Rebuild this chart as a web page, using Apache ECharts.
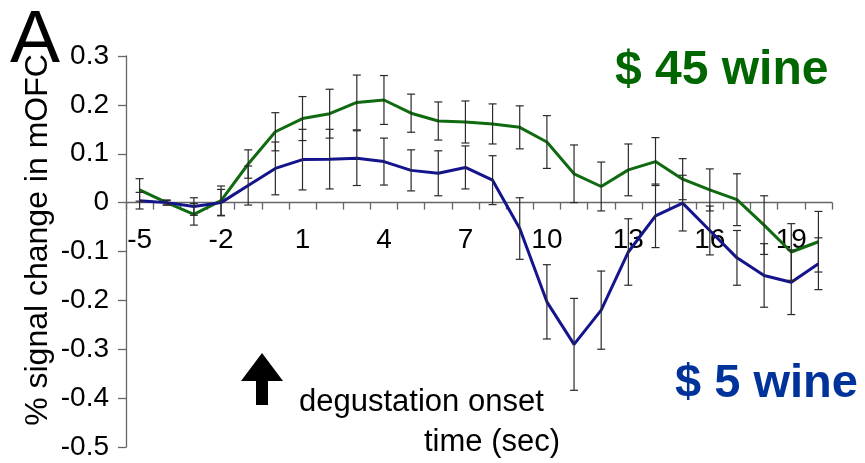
<!DOCTYPE html>
<html>
<head>
<meta charset="utf-8">
<script src="https://cdn.jsdelivr.net/npm/echarts@6/dist/echarts.min.js"></script>
<style>html,body{margin:0;padding:0;background:#fff}#c{width:865px;height:463px}</style>
</head>
<body>
<div id="c"></div>
<script>
var categories = ['-5','-4','-3','-2','-1','0','1','2','3','4','5','6','7','8','9','10','11','12','13','14','15','16','17','18','19','20'];
var wine45 = [0.026, 0.000, -0.024, 0.004, 0.079, 0.145, 0.172, 0.182, 0.205, 0.210, 0.183, 0.167, 0.165, 0.161, 0.154, 0.124, 0.059, 0.033, 0.067, 0.084, 0.048, 0.026, 0.006, -0.046, -0.101, -0.080];
var wine45Err = [0.023, 0.005, 0.022, 0.030, 0.029, 0.039, 0.045, 0.050, 0.056, 0.050, 0.039, 0.039, 0.043, 0.041, 0.044, 0.054, 0.059, 0.050, 0.053, 0.049, 0.042, 0.043, 0.053, 0.060, 0.058, 0.062];
var wine5 = [0.004, 0.000, -0.008, 0.000, 0.035, 0.070, 0.088, 0.089, 0.091, 0.084, 0.066, 0.060, 0.072, 0.046, -0.053, -0.203, -0.290, -0.220, -0.101, -0.027, -0.001, -0.057, -0.113, -0.149, -0.163, -0.125];
var wine5Err = [0.017, 0.005, 0.018, 0.027, 0.040, 0.054, 0.062, 0.061, 0.056, 0.048, 0.042, 0.046, 0.044, 0.050, 0.063, 0.076, 0.094, 0.080, 0.068, 0.065, 0.057, 0.050, 0.056, 0.065, 0.066, 0.053];
var yTicks = {min: -0.5, max: 0.3, interval: 0.1};

var FONT = "'Liberation Sans', Arial, sans-serif";
var G = {left: 126, right: 33, top: 56, bottom: 16};
var plotH = 463 - G.top - G.bottom;
// place the x axis line at value 0 (the crossing point of the y axis scale)
var zeroOffset = -plotH * (0 - yTicks.min) / (yTicks.max - yTicks.min);

function errData(mean, err) {
  return mean.map(function (m, i) { return [i, m - err[i], m + err[i]]; });
}
function renderErr(params, api) {
  var lo = api.coord([api.value(0), api.value(1)]);
  var hi = api.coord([api.value(0), api.value(2)]);
  var w = 4;
  var st = {stroke: '#2a2a2a', lineWidth: 1.2, fill: null};
  return {type: 'group', children: [
    {type: 'line', shape: {x1: lo[0], y1: lo[1], x2: hi[0], y2: hi[1]}, style: st},
    {type: 'line', shape: {x1: lo[0]-w, y1: lo[1], x2: lo[0]+w, y2: lo[1]}, style: st},
    {type: 'line', shape: {x1: hi[0]-w, y1: hi[1], x2: hi[0]+w, y2: hi[1]}, style: st}
  ]};
}

var chart = echarts.init(document.getElementById('c'));
chart.setOption({
  animation: false,
  textStyle: {fontFamily: FONT},
  grid: {left: G.left, right: G.right, top: G.top, bottom: G.bottom, containLabel: false, outerBoundsMode: 'none'},
  xAxis: {
    type: 'category', data: categories, boundaryGap: true, position: 'bottom', offset: zeroOffset,
    axisLine: {onZero: false, lineStyle: {color: '#666', width: 1.3}},
    axisTick: {show: true, interval: 0, length: 7, lineStyle: {color: '#666', width: 1.3}},
    axisLabel: {show: true, interval: 2, margin: 24, fontSize: 28, color: '#000', fontFamily: FONT},
    splitLine: {show: false}
  },
  yAxis: {
    type: 'value', min: yTicks.min, max: yTicks.max, interval: yTicks.interval,
    axisLine: {show: true, onZero: false, lineStyle: {color: '#666', width: 1.3}},
    axisTick: {show: true, length: 8, lineStyle: {color: '#666', width: 1.3}},
    axisLabel: {margin: 17, fontSize: 28, color: '#000', fontFamily: FONT,
      formatter: function (v) { return Math.abs(v) < 1e-9 ? '0' : (Math.round(v * 10) / 10).toFixed(1); }},
    splitLine: {show: false}
  },
  series: [
    {type: 'custom', name: 'err45', data: errData(wine45, wine45Err), renderItem: renderErr, z: 3},
    {type: 'custom', name: 'err5', data: errData(wine5, wine5Err), renderItem: renderErr, z: 3},
    {type: 'line', name: '$ 45 wine', data: wine45, symbol: 'none', lineStyle: {color: '#106a10', width: 3}, z: 2},
    {type: 'line', name: '$ 5 wine', data: wine5, symbol: 'none', lineStyle: {color: '#14148c', width: 3}, z: 2}
  ],
  graphic: [
    {type: 'text', left: 10, top: 4, style: {text: 'A', font: '75px ' + FONT, fill: '#000'}},
    {type: 'text', x: 38, y: 240, rotation: Math.PI / 2,
      style: {text: '% signal change in mOFC', font: '32px ' + FONT, fill: '#000', textAlign: 'center', textVerticalAlign: 'middle'}},
    {type: 'text', x: 615, y: 71, style: {text: '$ 45 wine', font: 'bold 48px ' + FONT, fill: '#006600', textVerticalAlign: 'middle'}},
    {type: 'text', x: 675, y: 384, style: {text: '$ 5 wine', font: 'bold 47px ' + FONT, fill: '#003399', textVerticalAlign: 'middle'}},
    {type: 'text', x: 299, y: 387, style: {text: 'degustation onset', font: '31px ' + FONT, fill: '#000', textVerticalAlign: 'top'}},
    {type: 'text', x: 424, y: 427, style: {text: 'time (sec)', font: '31px ' + FONT, fill: '#000', textVerticalAlign: 'top'}},
    {type: 'polygon', shape: {points: [[262, 353], [283, 381], [268, 381], [268, 405], [256, 405], [256, 381], [241, 381]]}, style: {fill: '#000'}}
  ]
});
</script>
</body>
</html>
